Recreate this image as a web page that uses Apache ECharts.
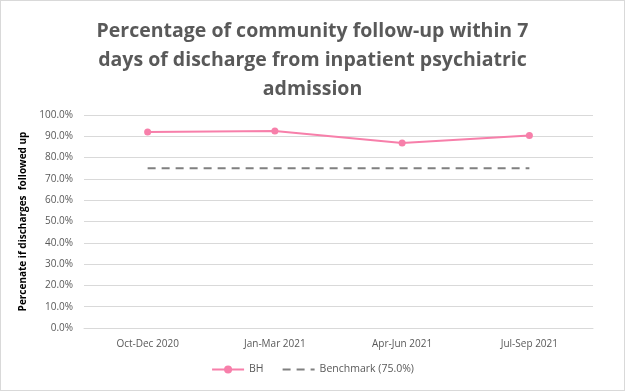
<!DOCTYPE html>
<html><head><meta charset="utf-8">
<script src="https://cdn.jsdelivr.net/npm/echarts@6/dist/echarts.min.js"></script>
<style>html,body{margin:0;padding:0;background:#fff;}#c{width:623px;height:389px;border:1px solid #d9d9d9;}</style>
</head><body><div id="c"></div>
<script>
const categories = ['Oct-Dec 2020','Jan-Mar 2021','Apr-Jun 2021','Jul-Sep 2021'];
const bhValues = [92.0, 92.5, 86.8, 90.4];
const benchmarkValues = [75.0, 75.0, 75.0, 75.0];
const chart = echarts.init(document.getElementById('c'));
chart.setOption({
  animation:false,
  title:{text:'Percentage of community follow-up within 7\ndays of discharge from inpatient psychiatric\nadmission',left:'center',top:11,
    textStyle:{fontFamily:'Open Sans',fontSize:19.5,fontWeight:'bold',color:'#595959',lineHeight:29}},
  grid:{left:83,right:31,top:114,bottom:62},
  legend:{bottom:10,left:'center',itemWidth:32,itemHeight:10,itemGap:18,
    textStyle:{fontFamily:'Open Sans',fontSize:10.5,color:'#595959'},
    data:[{name:'BH'},{name:'Benchmark (75.0%)',itemStyle:{opacity:0}}]},
  xAxis:{type:'category',data:categories,boundaryGap:true,
    axisLine:{lineStyle:{color:'#d9d9d9'}},axisTick:{show:false},
    axisLabel:{fontFamily:'Open Sans',fontSize:10,color:'#595959',margin:11}},
  yAxis:{type:'value',min:0,max:100,interval:10,
    name:'Percenate if discharges  followed up',nameLocation:'middle',nameGap:48,
    nameTextStyle:{fontFamily:'Open Sans',fontSize:10,fontWeight:'bold',color:'#000'},
    axisLabel:{fontFamily:'Open Sans',fontSize:10,color:'#595959',margin:11,formatter:v=>v.toFixed(1)+'%'},
    splitLine:{lineStyle:{color:'#d9d9d9'}}},
  series:[
    {name:'BH',type:'line',data:bhValues,symbol:'circle',symbolSize:7,
      lineStyle:{color:'#F77FAA',width:2},itemStyle:{color:'#F77FAA'}},
    {name:'Benchmark (75.0%)',type:'line',data:benchmarkValues,symbol:'none',
      lineStyle:{color:'#808080',width:2,type:[8,6]},itemStyle:{color:'#808080'}}
  ]
});
</script></body></html>
